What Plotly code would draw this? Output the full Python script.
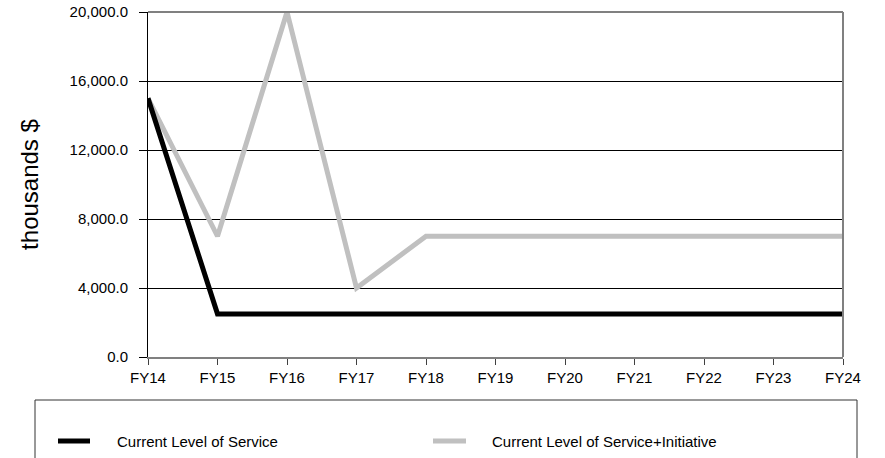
import plotly.graph_objects as go

years = ["FY14", "FY15", "FY16", "FY17", "FY18", "FY19", "FY20", "FY21", "FY22", "FY23", "FY24"]
current_service = [15000, 2500, 2500, 2500, 2500, 2500, 2500, 2500, 2500, 2500, 2500]
service_initiative = [15000, 7000, 20000, 4000, 7000, 7000, 7000, 7000, 7000, 7000, 7000]
series_names = ["Current Level of Service", "Current Level of Service+Initiative"]
series_colors = ["#000000", "#c0c0c0"]
y_ticks = [0, 4000, 8000, 12000, 16000, 20000]

FONT = "Liberation Sans, Arial, sans-serif"

fig = go.Figure()
fig.add_trace(go.Scatter(x=years, y=service_initiative, mode="lines", name=series_names[1],
                         line=dict(color=series_colors[1], width=5), showlegend=False))
fig.add_trace(go.Scatter(x=years, y=current_service, mode="lines", name=series_names[0],
                         line=dict(color=series_colors[0], width=5), showlegend=False))

W, H = 885, 458
ml, mr, mt, mb = 148, 42, 12, 101
pw, ph = W - ml - mr, H - mt - mb

def px_x(x):
    return (x - ml) / pw

def px_y(y):
    return (H - mb - y) / ph

shapes = [
    # top and right border
    dict(type="line", xref="paper", yref="paper", x0=0, x1=1, y0=1, y1=1,
         line=dict(color="#808080", width=2)),
    dict(type="line", xref="paper", yref="paper", x0=1, x1=1, y0=0, y1=1,
         line=dict(color="#808080", width=2)),
    # legend box
    dict(type="rect", xref="paper", yref="paper", x0=px_x(35), x1=px_x(857),
         y0=px_y(400), y1=px_y(475), line=dict(color="#333333", width=1)),
    # legend samples
    dict(type="line", xref="paper", yref="paper", x0=px_x(58), x1=px_x(90),
         y0=px_y(441), y1=px_y(441), line=dict(color=series_colors[0], width=5)),
    dict(type="line", xref="paper", yref="paper", x0=px_x(433), x1=px_x(466),
         y0=px_y(441), y1=px_y(441), line=dict(color=series_colors[1], width=5)),
]

annotations = [
    dict(xref="paper", yref="paper", x=px_x(115), y=px_y(441), text=series_names[0],
         showarrow=False, xanchor="left", yanchor="middle",
         font=dict(family=FONT, size=15, color="#000000")),
    dict(xref="paper", yref="paper", x=px_x(490), y=px_y(441), text=series_names[1],
         showarrow=False, xanchor="left", yanchor="middle",
         font=dict(family=FONT, size=15, color="#000000")),
]

fig.update_layout(
    width=W, height=H,
    margin=dict(l=ml, r=mr, t=mt, b=mb, pad=0, autoexpand=False),
    paper_bgcolor="white", plot_bgcolor="white",
    font=dict(family=FONT, size=15, color="#000000"),
    shapes=shapes, annotations=annotations,
    xaxis=dict(
        type="category", range=[0, len(years) - 1], automargin=False,
        showgrid=False, showline=True, linecolor="#808080", linewidth=2,
        ticks="outside", ticklen=6, tickcolor="#404040", tickwidth=1,
        tickfont=dict(family=FONT, size=15, color="#000000"),
        zeroline=False,
    ),
    yaxis=dict(
        range=[0, 20000], tickvals=y_ticks, tickformat=",.1f", automargin=False,
        showgrid=True, gridcolor="#000000", gridwidth=1,
        showline=True, linecolor="#000000", linewidth=1,
        ticks="outside", ticklen=8, tickcolor="#000000", tickwidth=1,
        ticklabelstandoff=8,
        tickfont=dict(family=FONT, size=15, color="#000000"),
        zeroline=False,
        title=dict(text="thousands $", font=dict(family=FONT, size=24, color="#000000"), standoff=24),
    ),
)

fig.write_html("out.html", config={"displayModeBar": False},
               post_script="document.body.style.margin='0';")
